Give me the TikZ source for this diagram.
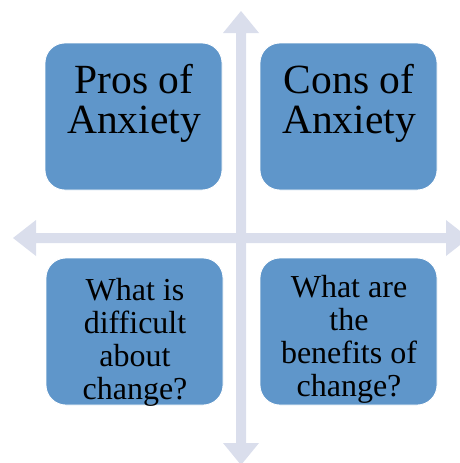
\documentclass[tikz,border=0pt]{standalone}
\usepackage{fontspec}
\setmainfont{Liberation Serif}
\definecolor{boxblue}{RGB}{95,150,202}
\definecolor{crossgray}{RGB}{218,222,236}
\begin{document}
\begin{tikzpicture}[x=1pt,y=-1pt,
  quad/.style={fill=boxblue, draw=white, line width=0.8pt, rounded corners=20pt,
    minimum width=177pt, minimum height=147pt, inner sep=0pt},
  bigtxt/.style={anchor=base, inner sep=0pt, font=\fontsize{41.5}{41}\selectfont},
  smalltxt/.style={anchor=base, inner sep=0pt, font=\fontsize{32}{33}\selectfont},
  crossarrow/.style={fill=crossgray, draw=none}]
\useasboundingbox (0,0) rectangle (460,463);
\begin{scope}
\clip (0,0) rectangle (460,463);
% horizontal double arrow
\fill[crossarrow] (13,238) -- (36,220) -- (36,233) -- (446,233) -- (446,220) -- (469,238)
  -- (446,256) -- (446,243) -- (36,243) -- (36,256) -- cycle;
% vertical double arrow
\fill[crossarrow] (241,11) -- (259,33) -- (246,33) -- (246,443) -- (259,443) -- (241,465)
  -- (223,443) -- (236,443) -- (236,33) -- (223,33) -- cycle;
\end{scope}
% boxes
\node[quad] (tl) at (133.5,116.5) {};
\node[quad] (tr) at (348.5,116.5) {};
\node[quad] (bl) at (134.5,331.5) {};
\node[quad] (br) at (348.5,331.5) {};
% texts
\node[bigtxt] (tl1) at (134,93) {Pros of};
\node[bigtxt] (tl2) at (134,133) {Anxiety};
\node[bigtxt] (tr1) at (349,93) {Cons of};
\node[bigtxt] (tr2) at (349,133) {Anxiety};
\node[smalltxt] (bl1) at (135,300) {What is};
\node[smalltxt] (bl2) at (135,333) {difficult};
\node[smalltxt] (bl3) at (135,366) {about};
\node[smalltxt] (bl4) at (135,399) {change?};
\node[smalltxt] (br1) at (349,297) {What are};
\node[smalltxt] (br2) at (349,330) {the};
\node[smalltxt] (br3) at (349,363) {benefits of};
\node[smalltxt] (br4) at (349,396) {change?};
\end{tikzpicture}
\end{document}
